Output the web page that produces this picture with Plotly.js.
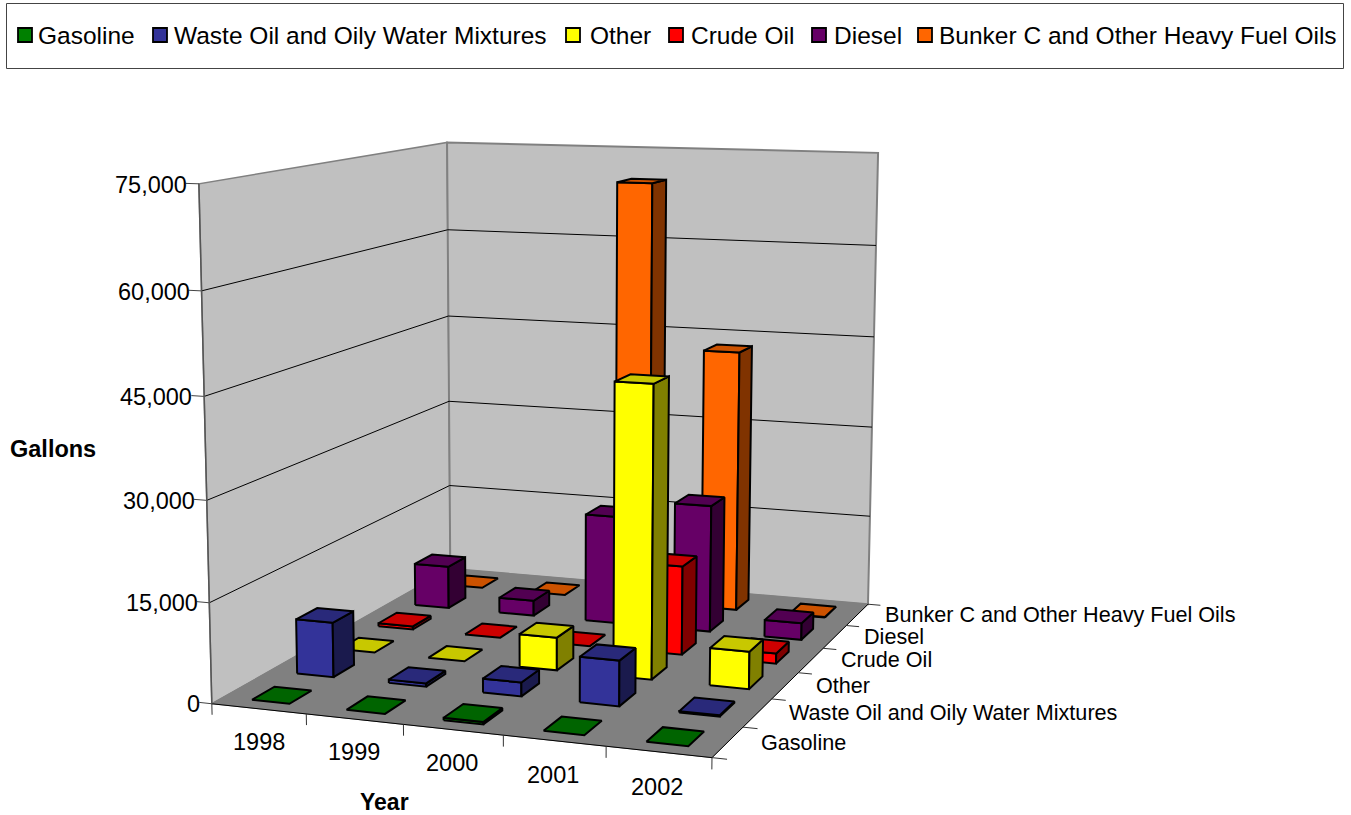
<!DOCTYPE html>
<html><head><meta charset="utf-8">
<script src="https://cdn.plot.ly/plotly-3.0.1.min.js"></script>
<style>html,body{margin:0;padding:0;background:#fff;overflow:hidden}</style>
</head><body><div id="chart" style="width:1351px;height:815px"></div>
<script>
const years = ['1998','1999','2000','2001','2002'];
const seriesNames = ['Gasoline','Waste Oil and Oily Water Mixtures','Other','Crude Oil','Diesel','Bunker C and Other Heavy Fuel Oils'];
const gasoline = [0,0,350,0,0];
const wasteOil = [8400,500,2100,6800,200];
const other = [0,0,5100,44700,5700];
const crudeOil = [500,0,0,14000,1600];
const diesel = [7000,2500,17600,20500,2700];
const bunkerC = [0,0,70000,43000,100];
const valueTicks = [0,15000,30000,45000,60000,75000];
const valueMax = 75000;
const allSeries = [gasoline,wasteOil,other,crudeOil,diesel,bunkerC];

const frontColors = ['#008000','#333399','#FFFF00','#FF0000','#660066','#FF6600'];
const topColors = ['#006400','#29297A','#C8C800','#CC0000','#520052','#CC5200'];
const sideColors = ['#004000','#1A1A4D','#808000','#800000','#330033','#803300'];
const FONT = 'Liberation Sans, Arial, sans-serif';

// Perspective camera calibrated on the box corners of the plot
const calib = [
 [0,0,0,212,704],[1,0,0,712,758],[1,1,0,868,604],[0,1,0,450,568],
 [0,0,1,199,184],[0,1,1,447,142],[1,1,1,878,153],
 [0,1,.2,450,487],[1,1,.2,870,516],[0,0,.2,209,602]];
function solveCamera(){
  const rows=[],rhs=[];
  calib.forEach(([u,v,w,x,y])=>{
    x/=1000;y/=1000;
    rows.push([u,v,w,1,0,0,0,0,-x*u,-x*v,-x*w]);rhs.push(x);
    rows.push([0,0,0,0,u,v,w,1,-y*u,-y*v,-y*w]);rhs.push(y);
  });
  const n=11,A=[];
  for(let i=0;i<n;i++){A.push(new Array(n+1).fill(0));
    for(let j=0;j<n;j++)rows.forEach(r=>A[i][j]+=r[i]*r[j]);
    rows.forEach((r,k)=>A[i][n]+=r[i]*rhs[k]);}
  for(let i=0;i<n;i++){
    let p=i;for(let k=i+1;k<n;k++)if(Math.abs(A[k][i])>Math.abs(A[p][i]))p=k;
    [A[i],A[p]]=[A[p],A[i]];
    for(let k=0;k<n;k++)if(k!==i){const f=A[k][i]/A[i][i];for(let j=i;j<=n;j++)A[k][j]-=f*A[i][j];}
  }
  return A.map((r,i)=>r[n]/r[i]);
}
const C=solveCamera();
function P(u,v,w){
  const d=C[8]*u+C[9]*v+C[10]*w+1;
  return [1000*(C[0]*u+C[1]*v+C[2]*w+C[3])/d,1000*(C[4]*u+C[5]*v+C[6]*w+C[7])/d];
}
const traces=[];
function poly(pts,fill,line,width,name){
  const q=pts.map(p=>P(p[0],p[1],p[2]));q.push(q[0]);
  traces.push({type:'scatter',mode:'lines',x:q.map(p=>p[0]),y:q.map(p=>p[1]),fill:'toself',fillcolor:fill,
    line:{color:line,width:width,shape:'linear'},hoverinfo:name?'text':'skip',text:name,showlegend:false});
}
function seg(a,b,color,width){
  const p=P(...a),q=P(...b);
  traces.push({type:'scatter',mode:'lines',x:[p[0],q[0]],y:[p[1],q[1]],line:{color:color,width:width},hoverinfo:'skip',showlegend:false});
}
// walls and floor
poly([[0,0,0],[0,1,0],[0,1,1],[0,0,1]],'#C0C0C0','#808080',1.5);
poly([[0,1,0],[1,1,0],[1,1,1],[0,1,1]],'#C0C0C0','#808080',2);
poly([[0,0,0],[1,0,0],[1,1,0],[0,1,0]],'#808080','#808080',1);
// gridlines
valueTicks.forEach((t,i)=>{
  if(i===0)return;
  const w=t/valueMax;
  if(i<valueTicks.length-1){seg([0,0,w],[0,1,w],'#000',1);seg([0,1,w],[1,1,w],'#000',1);}
  seg([-0.027,0,w],[0,0,w],'#444',1);
});
seg([0,0,0],[1,0,0],'#000',1);
seg([1,0,0],[1,1,0],'#000',1);
seg([0,0,0],[0,0,1],'#555',1.5);
seg([-0.027,0,0],[0,0,0],'#444',1);
// axis ticks
for(let i=0;i<=years.length;i++){const u=i/years.length;seg([u,0,0],[u,0,-0.022],'#333',1);}
for(let j=0;j<=seriesNames.length;j++){const v=j/seriesNames.length;seg([1,v,0],[1.028,v,0],'#333',1);}
// bars, back row first, left to right
const du=1/years.length,dv=1/seriesNames.length,bw=0.40*du,bd=0.49*dv;
for(let s=seriesNames.length-1;s>=0;s--){
  allSeries[s].forEach((val,i)=>{
    const u0=(i+.5)*du-bw/2,u1=u0+bw,v0=(s+.5)*dv-bd/2,v1=v0+bd,w=val/valueMax;
    const label=seriesNames[s]+' '+years[i]+': '+val;
    if(w>0){
      poly([[u0,v0,0],[u1,v0,0],[u1,v0,w],[u0,v0,w]],frontColors[s],'#000',2,label);
      poly([[u1,v0,0],[u1,v1,0],[u1,v1,w],[u1,v0,w]],sideColors[s],'#000',2,label);
    }
    poly([[u0,v0,w],[u1,v0,w],[u1,v1,w],[u0,v1,w]],topColors[s],'#000',2,label);
  });
}
// legend keys
const legendKeyX=[25,160,573,676,819,925],legendTextX=[36,172,588,689,832,937];
seriesNames.forEach((n,s)=>{
  traces.push({type:'scatter',mode:'markers',x:[legendKeyX[s]],y:[35],name:n,showlegend:false,hoverinfo:'skip',
    marker:{symbol:'square',size:14,color:frontColors[s],line:{color:'#000',width:1.8}}});
});
const annotations=[];
function label(x,y,text,size,anchor,bold){
  annotations.push({x:x,y:y,xref:'x',yref:'y',text:bold?'<b>'+text+'</b>':text,showarrow:false,xanchor:anchor,yanchor:'middle',
    font:{family:FONT,size:size,color:'#000'}});
}
seriesNames.forEach((n,s)=>label(legendTextX[s],35,n,24.5,'left'));
valueTicks.forEach(t=>{const p=P(-0.027,0,t/valueMax);label(p[0]+3,p[1]+1.5,t.toLocaleString('en-US'),23.5,'right');});
years.forEach((y,i)=>{const p=P((i+.5)*du,0,-0.075);label(p[0]-1,p[1]-5,y,23.5,'center');});
seriesNames.forEach((n,s)=>{const p=P(1.06,(s+.5)*dv,0);label(p[0]-1,p[1]-3,n,21.6,'left');});
label(53,449,'Gallons',23.5,'center',true);
label(384,802,'Year',23,'center',true);

Plotly.newPlot('chart',traces,{
  width:1351,height:815,margin:{l:0,r:0,t:0,b:0},paper_bgcolor:'#fff',plot_bgcolor:'#fff',
  xaxis:{range:[0,1351],visible:false,fixedrange:true},
  yaxis:{range:[815,0],visible:false,fixedrange:true},
  showlegend:false,annotations:annotations,
  shapes:[{type:'rect',xref:'x',yref:'y',x0:6.5,x1:1343.5,y0:3.5,y1:68.5,line:{color:'#444',width:1},fillcolor:'rgba(0,0,0,0)'}]
},{displayModeBar:false});
</script></body></html>
